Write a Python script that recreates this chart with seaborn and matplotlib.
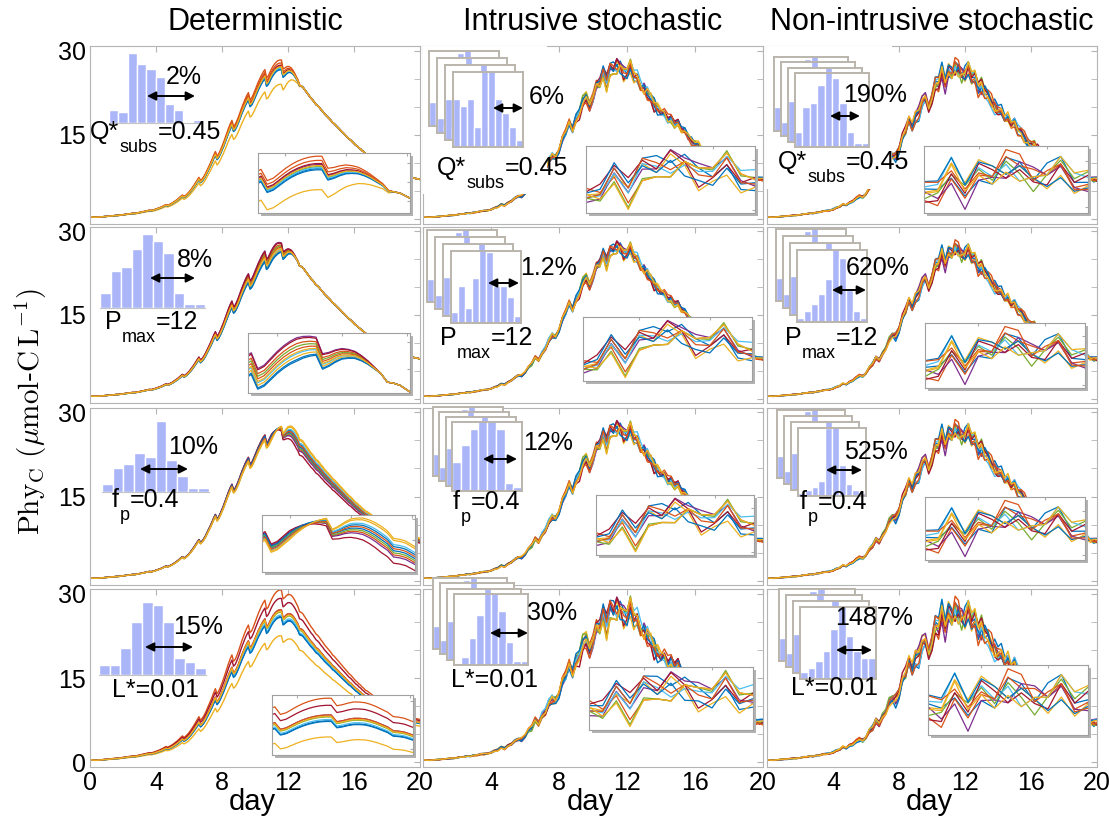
import numpy as np
import pandas as pd
import matplotlib
matplotlib.use("Agg")
import matplotlib.pyplot as plt
import seaborn as sns
from matplotlib.patches import Rectangle

# ---------------- data ----------------
DAY = np.round(np.arange(201) * 0.1, 1)

# reference trajectory Phy_C (umol-C/L), every 0.1 day, with the night dips
BASE = [
    0.5, 0.45, 0.42, 0.4, 0.4, 0.42, 0.45, 0.47, 0.5, 0.52, 0.55,
    0.58, 0.6, 0.63, 0.66, 0.7, 0.72, 0.72, 0.76, 0.8, 0.84,
    0.88, 0.92, 0.96, 1.0, 1.04, 1.08, 1.06, 1.1, 1.16, 1.22,
    1.28, 1.34, 1.4, 1.47, 1.54, 1.6, 1.56, 1.62, 1.7, 1.8,
    1.9, 2.0, 2.12, 2.25, 2.4, 2.55, 2.45, 2.55, 2.7, 2.85,
    3.05, 3.25, 3.45, 3.7, 3.95, 4.2, 3.95, 4.15, 4.4, 4.7,
    5.05, 5.45, 5.85, 6.3, 6.75, 7.2, 6.65, 6.95, 7.35, 7.85,
    8.45, 9.05, 9.65, 10.3, 11.0, 11.6, 10.8, 11.2, 11.8, 12.5,
    13.2, 14.0, 14.8, 15.6, 16.3, 16.9, 15.9, 16.2, 16.8, 17.5,
    18.3, 19.1, 19.8, 20.5, 21.1, 21.6, 20.4, 20.7, 21.3, 22.0,
    22.7, 23.4, 24.0, 24.6, 25.1, 25.5, 24.1, 24.4, 25.0, 25.6,
    26.1, 26.5, 26.8, 27.0, 27.1, 27.1, 25.7, 25.9, 26.2, 26.4,
    26.4, 26.3, 26.0, 25.6, 25.1, 24.6, 23.8, 23.7, 23.5, 23.1,
    22.7, 22.3, 21.9, 21.5, 21.2, 20.8, 20.4, 20.2, 19.9, 19.5,
    19.2, 18.8, 18.5, 18.2, 17.9, 17.6, 17.2, 17.0, 16.7, 16.4,
    16.1, 15.8, 15.5, 15.2, 14.9, 14.6, 14.3, 14.1, 13.8, 13.5,
    13.2, 13.0, 12.7, 12.5, 12.2, 12.0, 11.7, 11.6, 11.4, 11.2,
    11.0, 10.8, 10.6, 10.4, 10.2, 10.0, 9.8, 9.7, 9.6, 9.4,
    9.2, 9.1, 8.9, 8.8, 8.6, 8.5, 8.3, 8.25, 8.15, 8.0,
    7.9, 7.8, 7.7, 7.6, 7.5, 7.4, 7.3, 7.25, 7.2, 7.1,
]
BASE = np.array(BASE)

# deterministic ensembles: relative level of each member near the peak / on the decline
DET_PEAK = [
    [0.985, 1.045, 0.885, 1.005, 0.995, 0.99, 1.01, 0.98, 1.025, 1.0],
    [0.96, 1.02, 0.975, 1.04, 1.01, 0.985, 1.035, 0.965, 1.0, 0.99],
    [1.0, 1.01, 0.98, 1.015, 1.005, 0.99, 1.02, 1.01, 0.995, 0.985],
    [0.955, 1.13, 0.83, 1.0, 0.985, 0.965, 1.075, 0.95, 1.0, 0.99],
]
DET_TAIL = [
    [1.0, 1.0, 1.0, 1.0, 1.0, 1.0, 1.0, 1.0, 1.0, 1.0],
    [1.0, 1.0, 1.0, 1.0, 1.0, 1.0, 1.0, 1.0, 1.0, 1.0],
    [1.02, 0.98, 1.06, 0.97, 0.99, 1.03, 0.94, 1.0, 1.01, 1.05],
    [1.0, 1.0, 1.0, 1.0, 1.0, 1.0, 1.0, 1.0, 1.0, 1.0],
]
PEAK_T = [[0, 4, 11.6, 12.8, 20], [0, 4, 11.3, 12.6, 20], [0, 4, 11, 12, 20], [0, 6, 12, 20]]
PEAK_W = [[0.3, 0.8, 1, 0, 0], [0.2, 0.8, 1, 0, 0], [0.3, 0.8, 1, 0, 0], [0.4, 1, 1, 0.55]]
TAIL_T = [0, 11, 12.5, 20]
TAIL_W = [0, 0, 1, 1]

# stochastic members: slow wander (NOISE) + fast jitter (JITTER), one digit every 0.2 day
NOISE_RAW = [
    "4556766543 4567887654 3234567876 5434567876 5432345654 3456789876 5432345676 5434567876 5432345676 5434567654 5",
    "5432123456 7656543456 7898765434 5654321234 5676545678 7654323456 7876543212 3456787654 3456543234 5678765432 4",
    "6543456789 8765432101 2345676543 4567654321 2345678987 6545676543 2123456765 4321234567 8765434565 4321234567 6",
    "3456543212 3456789876 5456765432 3456787654 3234565432 1234567898 7654567654 3456787654 3212345654 3456787656 5",
    "5678765432 3456543234 5678987654 3212345676 5434567876 5432123456 7876545654 3212345678 7654345676 5432345654 4",
    "2345678765 4321234567 6545676543 4567898765 4323456543 2345676545 6789876543 2123456543 4567654321 2345678765 4",
    "7654323456 7876543212 3456787654 5676543234 5654321234 5678987654 3456543212 3456787656 5432345678 7654321234 5",
    "4321234565 6789876543 4567654323 4567654321 2345678765 4567876543 2345654321 2345678987 6543456765 4323456787 6",
    "5654345678 7654323456 5432123456 7898765434 5676543212 3456787654 5654321234 5678765432 3456765434 5678765432 3",
    "3234567876 5434567654 3212345678 9876543456 7654323456 5432123456 7876545676 5432345678 7654321234 5676543234 5",
]
JITTER_RAW = [
    "5283719460 2748391625 0739184625 3819472605 2947163850 3718294056 1928374650 2846193750 4182937560 3928174605 2",
    "3816290475 1937482650 4829173605 2736194850 1849273650 3927184056 2837419605 4718293650 2947381605 1839274056 7",
    "7294816350 4819372605 2938174650 1847392605 3829471650 2736481950 4928173605 1837492650 3948172605 2819374650 4",
    "0628394715 2937481605 3849271650 2918473605 1738492650 4829371605 2937184650 3718294605 1928473650 2837491605 9",
]
INT_AMP = [0.06, 0.05, 0.06, 0.09]
NON_AMP = [0.07, 0.06, 0.07, 0.10]

# histograms of the perturbed parameter
HIST_DET = [
    [5, 4, 26, 22, 20, 17, 7, 5, 0, 1],
    [4, 10, 11, 16, 20, 18, 15, 4, 1, 1],
    [2, 6, 7, 10, 9, 18, 8, 4, 1, 1],
    [3, 3, 8, 16, 22, 21, 16, 5, 4, 2],
]
HIST_INT = [
    [7, 6, 7, 3, 12, 12, 7, 5, 3, 1],
    [3, 10, 4, 12, 21, 19, 10, 10, 7, 2],
    [7, 11, 15, 18, 17, 15, 2, 1],
    [0, 2, 7, 13, 19, 20, 14, 6, 1, 1],
]
HIST_NON = [
    [4, 11, 12, 17, 22, 19, 12, 4, 1, 1],
    [1, 3, 5, 8, 12, 22, 18, 9, 3, 1],
    [1, 2, 3, 5, 22, 24, 10, 4, 2, 1],
    [2, 3, 5, 8, 14, 22, 12, 8, 6, 6],
]
HIST_BACK = [
    [10, 3, 6, 8, 12, 20, 14, 8, 4, 2],
    [4, 2, 8, 12, 22, 16, 10, 6, 3, 1],
    [6, 9, 4, 10, 18, 20, 12, 7, 5, 2],
]

# parameter labels: symbol, subscript, value
PARAM_LABELS = [("Q*", "subs", "=0.45"), ("P", "max", "=12"), ("f", "p", "=0.4"), ("L*=0.01", "", "")]
PCT = [["2%", "8%", "10%", "15%"],
       ["6%", "1.2%", "12%", "30%"],
       ["190%", "620%", "525%", "1487%"]]
TITLES = ["Deterministic", "Intrusive stochastic", "Non-intrusive stochastic"]
MEMBERS = ["m%d" % i for i in range(10)]

# ---------------- style ----------------
COLORS = ["#0072BD", "#D95319", "#EDB120", "#7E2F8E", "#77AC30", "#4DBEEE",
          "#A2142F", "#0072BD", "#D95319", "#EDB120"]
PAL = dict(zip(MEMBERS, COLORS))
HIST_C = "#aab6f8"
FRAME_C = "#bab4ac"
SPINE_C = "#b4b4b4"

sns.set_style("white")
plt.rcParams["font.family"] = ["Liberation Sans", "DejaVu Sans"]
plt.rcParams["mathtext.fontset"] = "cm"
plt.rcParams["text.color"] = "black"

W, H = 1109, 827
fig = plt.figure(figsize=(W / 100, H / 100), dpi=100)
renderer = fig.canvas.get_renderer()


def box(x0, y0, x1, y1):
    return [x0 / W, 1 - y1 / H, (x1 - x0) / W, (y1 - y0) / H]


def fxy(x, y):
    return (x / W, 1 - y / H)


def digits(s):
    return np.array([int(c) for c in s.replace(" ", "")])


NOISE = [digits(s) for s in NOISE_RAW]
JITTER = [digits(s) for s in JITTER_RAW]


def det_frame(r):
    wp = np.interp(DAY, PEAK_T[r], PEAK_W[r])
    wt = np.interp(DAY, TAIL_T, TAIL_W)
    parts = []
    for i, m in enumerate(MEMBERS):
        y = BASE * (1 + (DET_PEAK[r][i] - 1) * wp + (DET_TAIL[r][i] - 1) * wt)
        parts.append(pd.DataFrame({"day": DAY, "phy": y, "member": m}))
    return pd.concat(parts, ignore_index=True)


def sto_frame(amp, flip):
    t, b = DAY[::2], BASE[::2]
    parts = []
    for i, m in enumerate(MEMBERS):
        n = NOISE[9 - i][::-1] if flip else NOISE[i]
        j = JITTER[(i + 2) % 4] if flip else JITTER[i % 4]
        dev = (n - 4.5) / 4.5 + 0.6 * (j - 4.5) / 4.5
        parts.append(pd.DataFrame({"day": t, "phy": b * (1 + amp * dev), "member": m}))
    return pd.concat(parts, ignore_index=True)


# ---------------- layout (pixels) ----------------
COL_X = [(90, 420), (423, 763), (767, 1097)]
ROW_Y = [(46, 224), (227, 403), (408, 585), (589, 767)]
ZOOM_RECT = [
    [(258, 153, 410, 213), (248, 333, 410, 393), (262, 515, 415, 572), (272, 695, 413, 755)],
    [(586, 146, 755, 213), (583, 317, 752, 381), (596, 495, 754, 555), (589, 667, 753, 730)],
    [(924, 146, 1088, 213), (925, 323, 1085, 388), (925, 497, 1085, 560), (928, 665, 1088, 735)],
]
DET_HIST_RECT = [(109, 53, 93, 70), (100, 234, 105, 74), (102, 421, 107, 71), (99, 602, 107, 73)]
STACK_RECT = [
    [(453, 72, 70, 75, 8, 7), (451, 251, 70, 72, 8, 7), (452, 422, 70, 69, 6.3, 5), (454, 594, 74, 71, 7, 5.3)],
    [(795, 73, 74, 74, 7, 5.3), (797, 250, 70, 72, 7, 7), (798, 428, 68, 68, 7, 6), (800, 607, 76, 72, 7, 6)],
]
PCT_XY = [
    [(184, 77), (195, 260), (193, 447), (198, 627)],
    [(547, 97), (548, 268), (548, 443), (552, 613)],
    [(875, 95), (878, 268), (876, 452), (874, 618)],
]
ARROWS = [
    [(147, 195, 96), (150, 195, 278), (140, 188, 469), (145, 193, 647)],
    [(493, 523, 108), (488, 519, 283), (483, 517, 459), (490, 528, 633)],
    [(830, 860, 116), (832, 866, 290), (826, 862, 470), (836, 872, 650)],
]
LABEL_LEFT = [
    [(90, 132), (105, 322), (112, 500), (112, 690)],
    [(437, 168), (440, 338), (453, 502), (451, 680)],
    [(778, 162), (785, 338), (800, 502), (791, 688)],
]


def lines(ax, df, lw):
    sns.lineplot(data=df, x="day", y="phy", hue="member", palette=PAL, hue_order=MEMBERS,
                 estimator=None, legend=False, linewidth=lw, ax=ax)
    ax.set(xlabel=None, ylabel=None)


def zoom_inset(df, rect, win):
    x0, y0, x1, y1 = rect
    shadow = Rectangle(fxy(x0 + 3, y1 + 3), (x1 - x0) / W, (y1 - y0) / H,
                       transform=fig.transFigure, fc="#b2b2b2", ec="none", zorder=1)
    fig.add_artist(shadow)
    ax = fig.add_axes(box(x0, y0, x1, y1), zorder=2)
    ax.set_facecolor("white")
    lines(ax, df, 0.9)
    sub = df[(df.day >= win[0]) & (df.day <= win[1])]
    lo, hi = sub.phy.min(), sub.phy.max()
    pad = 0.06 * (hi - lo)
    ax.set_xlim(*win)
    ax.set_ylim(lo - pad, hi + pad)
    ax.tick_params(direction="in", length=2.5, color="#aaaaaa", labelbottom=False,
                   labelleft=False, top=True, right=True)
    for s in ax.spines.values():
        s.set_color("#a0a0a0")
        s.set_linewidth(0.8)


def hist_axes(x0, y0, w, h, counts, framed, z):
    ax = fig.add_axes(box(x0, y0, x0 + w, y0 + h), zorder=z)
    n = len(counts)
    ax.bar(np.arange(n) + 0.5, counts, width=1.0, color=HIST_C, edgecolor="white", linewidth=1)
    ax.set_xlim(0, n)
    ax.set_xticks([])
    ax.set_yticks([])
    if framed:
        ax.set_facecolor("white")
        ax.set_ylim(0, max(counts) * 0.92)
        for s in ax.spines.values():
            s.set_color(FRAME_C)
            s.set_linewidth(1.4)
    else:
        ax.patch.set_alpha(0)
        ax.set_ylim(0, max(counts))
        for k in ("top", "left", "right"):
            ax.spines[k].set_visible(False)
        ax.spines["bottom"].set_color("#c4c4c4")
    return ax


def arrow(ax, spec):
    x0, x1, y = spec
    ax.annotate("", xy=fxy(x1, y), xytext=fxy(x0, y), xycoords="figure fraction",
                textcoords="figure fraction", annotation_clip=False,
                arrowprops=dict(arrowstyle="<|-|>", color="black", lw=1.4,
                                mutation_scale=13, shrinkA=0, shrinkB=0))


def param_label(x, y, parts):
    main, sub, rest = parts
    t = fig.text(*fxy(x, y), main, ha="left", va="center", fontsize=18, zorder=10)
    if not sub:
        return
    xe = t.get_window_extent(renderer).x1
    s = fig.text(xe / W + 0.5 / W, 1 - (y + 15) / H, sub, ha="left", va="center",
                 fontsize=13, zorder=10)
    xe = s.get_window_extent(renderer).x1
    fig.text(xe / W, 1 - y / H, rest, ha="left", va="center", fontsize=18, zorder=10)


for c in range(3):
    for r in range(4):
        ax = fig.add_axes(box(COL_X[c][0], ROW_Y[r][0], COL_X[c][1], ROW_Y[r][1]), zorder=0)
        if c == 0:
            df = det_frame(r)
        else:
            df = sto_frame(INT_AMP[r] if c == 1 else NON_AMP[r], c == 2)
        lines(ax, df, 1.0)
        ax.set_xlim(0, 20)
        ax.set_ylim(-0.8, 30.8)
        ax.set_xticks([0, 4, 8, 12, 16, 20])
        ax.set_yticks([0, 15, 30])
        ax.set_yticks([5, 10, 20, 25], minor=True)
        ax.tick_params(which="both", direction="in", length=4, color=SPINE_C, top=True,
                       right=True, labelsize=18, labelcolor="black", pad=3)
        for s in ax.spines.values():
            s.set_color(SPINE_C)
        if c == 0:
            ax.set_yticklabels(["0" if r == 3 else "", "15", "30"])
        else:
            ax.tick_params(labelleft=False)
        if r == 3:
            ax.set_xticklabels(["0" if c == 0 else "", "4", "8", "12", "16", "20"])
        else:
            ax.tick_params(labelbottom=False)
        if r == 0 and c > 0:
            # the white label area of the stochastic insets hides part of the curves
            ax.add_patch(Rectangle((0, 4.5 if c == 1 else 5.5), 7.3 if c == 1 else 7.6, 30,
                                   fc="white", ec="none", zorder=3))

        zoom_inset(df, ZOOM_RECT[c][r], (10.55, 13.05) if c == 0 else (10.2, 12.6))

        if c == 0:
            hx, hy, hw, hh = DET_HIST_RECT[r]
            hax = hist_axes(hx, hy, hw, hh, HIST_DET[r], False, 3)
        else:
            hx, hy, hw, hh, dx, dy = STACK_RECT[c - 1][r]
            for k in (3, 2, 1):
                hist_axes(hx - dx * k, hy - dy * k, hw, hh, HIST_BACK[k - 1], True, 3 + (3 - k) * 0.1)
            hax = hist_axes(hx, hy, hw, hh, (HIST_INT if c == 1 else HIST_NON)[r], True, 3.3)
        arrow(hax, ARROWS[c][r])

        fig.text(*fxy(*PCT_XY[c][r]), PCT[c][r], ha="center", va="center", fontsize=18, zorder=10)
        param_label(*LABEL_LEFT[c][r], PARAM_LABELS[r])

    cx = (COL_X[c][0] + COL_X[c][1]) / 2
    fig.text(*fxy(cx, 22), TITLES[c], ha="center", va="center", fontsize=22)
    fig.text(*fxy(cx - 3, 802), "day", ha="center", va="center", fontsize=21)

fig.text(*fxy(31, 412), r"$\mathrm{Phy_C}\ (\mu\mathrm{mol}$-$\mathrm{C\,L^{-1}})$",
         rotation=90, ha="center", va="center", fontsize=21)

fig.savefig("out.png", dpi=100, facecolor="white")
